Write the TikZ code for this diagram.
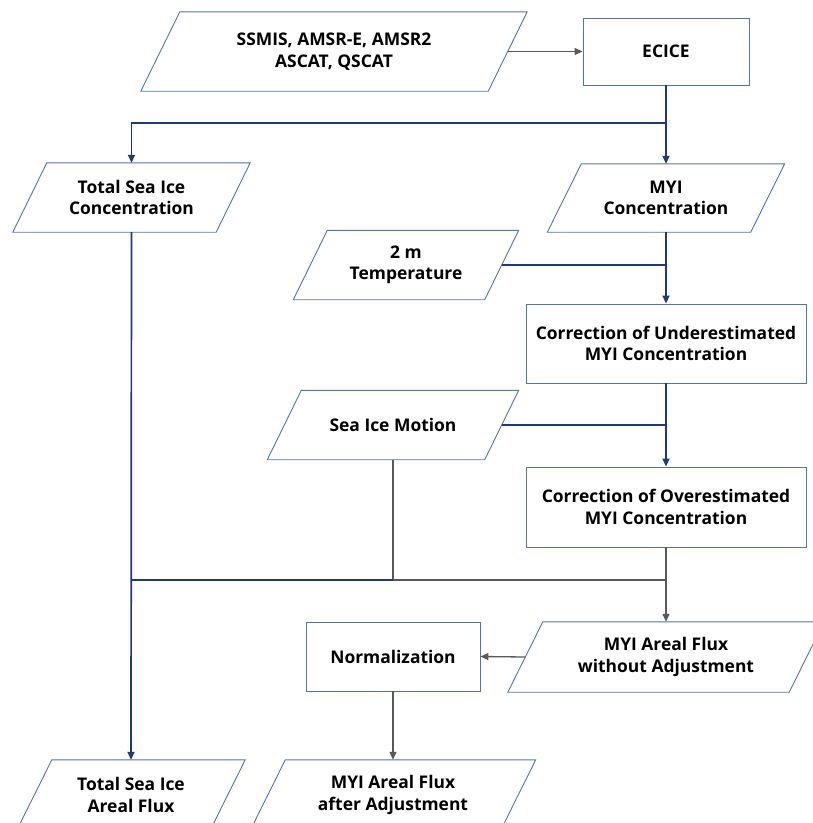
\documentclass[tikz,border=0pt]{standalone}
\usepackage{fontspec}
\setmainfont{Open Sans}
\usetikzlibrary{arrows.meta,calc}
\definecolor{shapeblue}{HTML}{5573B0}
\definecolor{navyline}{HTML}{1F3A7C}
\definecolor{grayline}{HTML}{595959}
\tikzset{
  txt/.style={inner sep=0pt, align=center, text=black,
    font=\fontsize{17.5}{21.5}\selectfont\bfseries},
  box/.style={txt, draw=shapeblue, line width=0.9bp, fill=white},
  para/.style={txt},
  shp/.style={draw=shapeblue, line width=0.9bp},
  nv/.style={draw=navyline, line width=1.7bp},
  gr/.style={draw=grayline, line width=1.3bp},
  arr/.style={-{Triangle[length=8bp,width=7bp]}},
}
\newcommand{\parashape}[2]{%
  \draw[shp] ($(#1.north west)+(0.5*#2,0)$) -- ($(#1.north east)+(0.5*#2,0)$)
   -- ($(#1.south east)-(0.5*#2,0)$) -- ($(#1.south west)-(0.5*#2,0)$) -- cycle;}
\begin{document}
\begin{tikzpicture}[x=1bp,y=-1bp]
\fill[white] (0,0) rectangle (813,823);
\useasboundingbox (0,0) rectangle (813,823);

% input data
\node[para, minimum width=347bp, minimum height=79bp] (src) at (334,51.5) {SSMIS, AMSR-E, AMSR2\\ASCAT, QSCAT};
\parashape{src}{39}
\node[box, minimum width=166bp, minimum height=67bp] (ecice) at (666,51.5) {ECICE};

\node[para, minimum width=203bp, minimum height=69bp] (tsic) at (131.5,197.5) {Total Sea Ice\\Concentration};
\parashape{tsic}{34}
\node[para, minimum width=203bp, minimum height=68bp] (myic) at (666,198) {MYI\\Concentration};
\parashape{myic}{34}

\node[para, minimum width=191bp, minimum height=69bp] (temp) at (406,265) {2 m\\Temperature};
\parashape{temp}{34}
\node[box, minimum width=280bp, minimum height=79bp] (cu) at (666,343.5) {Correction of Underestimated\\MYI Concentration};

\node[para, minimum width=217bp, minimum height=69bp] (sim) at (393,425) {Sea Ice Motion};
\parashape{sim}{34}
\node[box, minimum width=280bp, minimum height=80bp] (co) at (666,507) {Correction of Overestimated\\MYI Concentration};

\node[para, minimum width=281bp, minimum height=70bp] (flw) at (666,657) {MYI Areal Flux\\without Adjustment};
\parashape{flw}{35}
\node[box, minimum width=174bp, minimum height=69bp] (norm) at (393,656.5) {Normalization};

\node[para, minimum width=193bp, minimum height=70bp] (tsf) at (131,795) {Total Sea Ice\\Areal Flux};
\parashape{tsf}{35}
\node[para, minimum width=250bp, minimum height=70bp] (fla) at (393,795) {MYI Areal Flux\\after Adjustment};
\parashape{fla}{35}

% junctions
\coordinate (j1) at (666,123);
\coordinate (j2) at (393,580);

% connectors
\draw[gr,arr] (src.east) -- (ecice.west);
\draw[nv,arr] (ecice.south) -- (myic.north);
\draw[nv,arr] (j1) -| (tsic.north);
\draw[nv,arr] (tsic.south) -- (tsf.north);
\draw[nv,arr] (myic.south) -- (cu.north);
\draw[nv] (temp.east) -- (temp.east -| myic.south);
\draw[nv,arr] (cu.south) -- (co.north);
\draw[nv] (sim.east) -- (sim.east -| cu.south);
\draw[gr,arr] (co.south) -- (flw.north);
\draw[gr] (sim.south) -- (j2) -- (co.south |- j2);
\draw[nv] (j2) -- (tsic.south |- j2);
\draw[gr,arr] (flw.west) -- (norm.east);
\draw[gr,arr] (norm.south) -- (fla.north);
\end{tikzpicture}
\end{document}
